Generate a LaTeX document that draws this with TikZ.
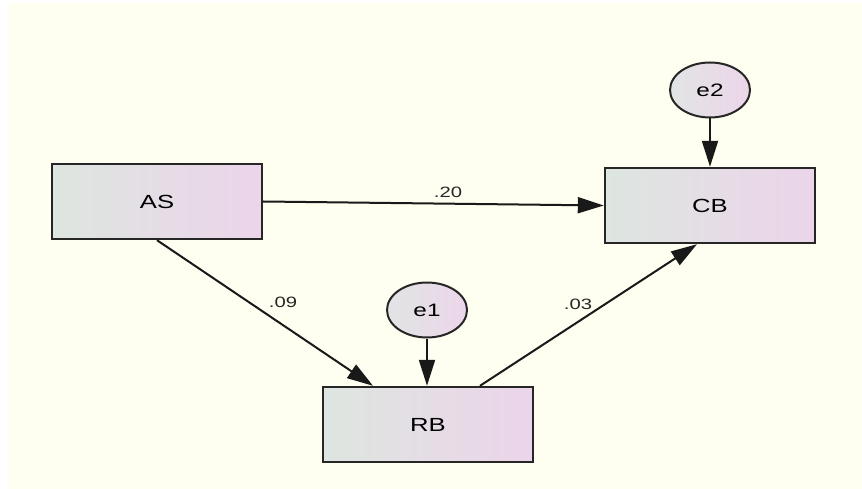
\documentclass[tikz,border=0pt]{standalone}
\usepackage{fontspec}
\setmainfont{Liberation Sans}
\usetikzlibrary{arrows.meta,shapes.geometric}

\definecolor{paper}{RGB}{254,255,240}
\definecolor{shadeL}{RGB}{221,230,224}
\definecolor{shadeR}{RGB}{236,212,234}
\definecolor{errL}{RGB}{226,228,228}
\definecolor{errR}{RGB}{236,214,234}

% wide lettering of the path diagram
\newcommand{\widetxt}[1]{\scalebox{1.35}[1]{#1}}

\tikzset{
  observed/.style={rectangle, draw=black!85, line width=2.4pt,
    minimum width=210pt, minimum height=75pt, inner sep=0pt,
    left color=shadeL, right color=shadeR,
    font=\fontsize{19}{22}\selectfont},
  residual/.style={ellipse, draw=black!85, line width=2pt,
    minimum width=80pt, minimum height=55pt, inner sep=0pt,
    left color=errL, right color=errR,
    font=\fontsize{18}{21}\selectfont},
  link/.style={-{Triangle[length=26pt,width=16pt]}, line width=2pt, black!90},
  coef/.style={font=\fontsize{15}{18}\selectfont, inner sep=0pt, text=black!85}
}

\begin{document}
\begin{tikzpicture}[x=1pt,y=-1pt]
  \useasboundingbox (0,0) rectangle (862,489);
  \fill[white] (0,0) rectangle (862,489);
  \fill[paper] (7,3) rectangle (862,489);

  % observed variables
  \node[observed] (AS) at (157,201.5) {\widetxt{AS}};
  \node[observed] (CB) at (710,205.5) {\widetxt{CB}};
  \node[observed] (RB) at (428,424.5) {\widetxt{RB}};

  % error terms
  \node[residual] (e1) at (427,310) {\widetxt{e1}};
  \node[residual] (e2) at (710,90) {\widetxt{e2}};

  % regression paths
  \draw[link] (AS.east) -- (CB.west);
  \draw[link] (AS.south) -- ([xshift=-55pt]RB.north);
  \draw[link] ([xshift=52pt]RB.north) -- ([xshift=-13pt]CB.south);
  \draw[link] (e1.south) -- (e1.south |- RB.north);
  \draw[link] (e2.south) -- (CB.north);

  % path coefficients
  \node[coef] (c20) at (448,192) {\widetxt{.20}};
  \node[coef] (c09) at (283,302) {\widetxt{.09}};
  \node[coef] (c03) at (578,304) {\widetxt{.03}};
\end{tikzpicture}
\end{document}
